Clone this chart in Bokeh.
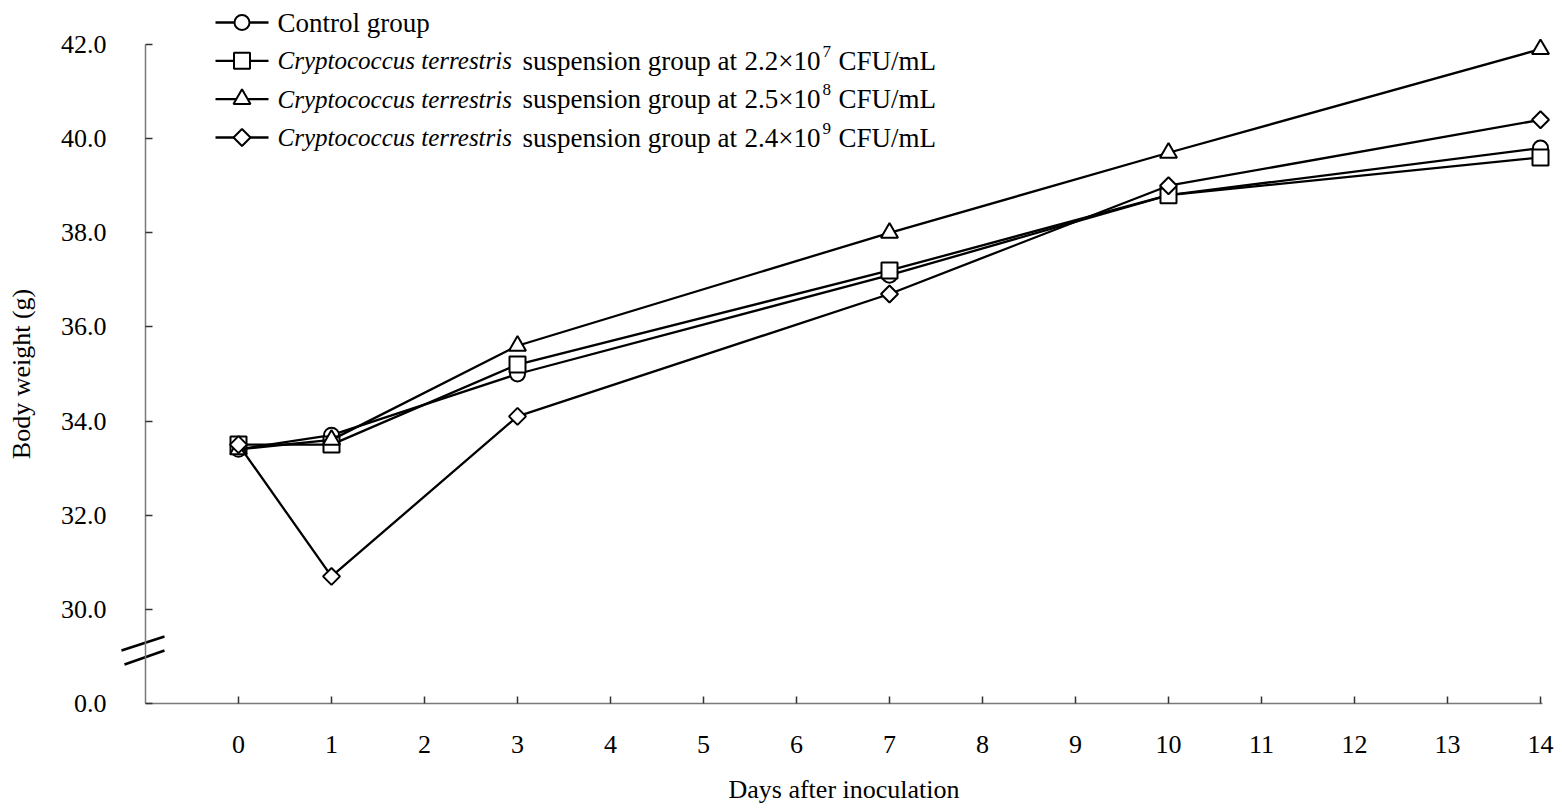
import math

from bokeh.core.properties import value
from bokeh.embed import file_html
from bokeh.models import FixedTicker, Range1d
from bokeh.plotting import figure
from bokeh.resources import INLINE

# ---- data ---------------------------------------------------------------
days = [0, 1, 3, 7, 10, 14]
control = [33.4, 33.7, 35.0, 37.1, 38.8, 39.8]
ct_2_2e7 = [33.5, 33.5, 35.2, 37.2, 38.8, 39.6]
ct_2_5e8 = [33.4, 33.6, 35.6, 38.0, 39.7, 41.9]
ct_2_4e9 = [33.5, 30.7, 34.1, 36.7, 39.0, 40.4]

x_ticks = list(range(0, 15))
y_tick_values = [0.0, 30.0, 32.0, 34.0, 36.0, 38.0, 40.0, 42.0]
y_tick_labels = ["0.0", "30.0", "32.0", "34.0", "36.0", "38.0", "40.0", "42.0"]

legend_plain = "Control group"
legend_italic = "Cryptococcus terrestris"
legend_doses = [("2.2", "7"), ("2.5", "8"), ("2.4", "9")]

# the y axis is broken between 0 and 30: zero sits one tick step below 30
BREAK_POS = 28.0
X_AXIS_START, X_AXIS_END = -1.0, 14.02
Y_AXIS_END = 42.0


def y_pos(v):
    return BREAK_POS if v == 0 else v


# ---- geometry: the frame covers the whole canvas ------------------------
W, H = 1562, 809
LEFT, BOTTOM = 145, 106          # where the axes cross, in pixels from left / bottom
X_PX = 93.0                      # pixels per day
Y_PX = 659.0 / 14.0              # pixels per gram
X0 = X_AXIS_START - LEFT / X_PX
X1 = X0 + W / X_PX
Y0 = BREAK_POS - BOTTOM / Y_PX
Y1 = Y0 + H / Y_PX


def px_x(px):
    return X0 + px / X_PX


def px_y(py):
    return Y0 + (H - py) / Y_PX


FONT = "Liberation Serif"

p = figure(
    width=W, height=H,
    x_range=Range1d(X0, X1), y_range=Range1d(Y0, Y1),
    output_backend="svg", toolbar_location=None,
    min_border=0,
    outline_line_color=None, background_fill_color="white",
    border_fill_color="white",
)
p.grid.visible = False

# ---- axes ---------------------------------------------------------------
for ax in (p.xaxis[0], p.yaxis[0]):
    ax.axis_line_color = "#7a7a7a"
    ax.axis_line_width = 1.5
    ax.major_tick_line_color = "#333333"
    ax.major_tick_line_width = 1.5
    ax.major_tick_in = 7
    ax.major_tick_out = 0
    ax.minor_tick_line_color = None
    ax.major_label_text_font = FONT
    ax.major_label_text_font_size = "26px"
    ax.major_label_text_color = "black"
    ax.axis_label_text_font = FONT
    ax.axis_label_text_font_size = "26px"
    ax.axis_label_text_font_style = "normal"
    ax.axis_label_text_color = "black"

p.xaxis.fixed_location = BREAK_POS
p.xaxis.ticker = FixedTicker(ticks=x_ticks)
p.xaxis.bounds = (X_AXIS_START, X_AXIS_END)
p.xaxis.major_label_standoff = 32
p.xaxis.axis_label = "Days after inoculation"
p.xaxis.axis_label_standoff = 19

y_positions = [y_pos(v) for v in y_tick_values]
p.yaxis.fixed_location = X_AXIS_START
p.yaxis.ticker = FixedTicker(ticks=y_positions)
p.yaxis.major_label_overrides = {pos: lab for pos, lab in zip(y_positions, y_tick_labels)}
p.yaxis.bounds = (BREAK_POS, Y_AXIS_END)
p.yaxis.major_label_standoff = 39
p.yaxis.axis_label = "Body weight (g)"
p.yaxis.axis_label_standoff = 22

# axis-break marks across the y axis
p.segment(x0=[px_x(121), px_x(124)], y0=[px_y(650), px_y(664)],
          x1=[px_x(164), px_x(164)], y1=[px_y(636), px_y(650)],
          line_color="black", line_width=2.5)

# ---- series -------------------------------------------------------------
marker_styles = [
    dict(marker="circle", size=15, angle=0.0),
    dict(marker="square", size=16, angle=0.0),
    dict(marker="triangle", size=17, angle=0.0),
    dict(marker="square", size=12, angle=math.pi / 4),
]
series = [control, ct_2_2e7, ct_2_5e8, ct_2_4e9]
LW = 2.3

for vals, st in zip(series, marker_styles):
    ys = [y_pos(v) for v in vals]
    p.line(days, ys, line_color="black", line_width=LW)
    p.scatter(days, ys, marker=st["marker"], size=st["size"], angle=st["angle"],
              fill_color="white", line_color="black", line_width=2)

# ---- legend -------------------------------------------------------------
row_py = [22, 60.3, 98.6, 137]
line_px = (215, 268)
mark_px = 241.5

for py, st in zip(row_py, marker_styles):
    yy = px_y(py)
    p.segment(x0=[px_x(line_px[0])], y0=[yy], x1=[px_x(line_px[1])], y1=[yy],
              line_color="black", line_width=LW)
    p.scatter([px_x(mark_px)], [yy], marker=st["marker"], size=st["size"], angle=st["angle"],
              fill_color="white", line_color="black", line_width=2)

common = dict(text_font=value(FONT), text_color="black", text_align="left")
big = value("27px")
p.text(x=[px_x(277)], y=[px_y(row_py[0])], text=[legend_plain],
       text_font_size=big, text_baseline="middle", **common)

rows = row_py[1:]
n = len(rows)
p.text(x=[px_x(277)] * n, y=[px_y(r) for r in rows], text=[legend_italic] * n,
       text_font_size=value("25px"), text_font_style="italic", text_baseline="middle", **common)
p.text(x=[px_x(522)] * n, y=[px_y(r) for r in rows], text=["suspension group at"] * n,
       text_font_size=big, text_baseline="middle", **common)
p.text(x=[px_x(744)] * n, y=[px_y(r) for r in rows],
       text=[f"{m}\u00d710" for m, _ in legend_doses],
       text_font_size=big, text_baseline="middle", **common)
p.text(x=[px_x(822)] * n, y=[px_y(r - 15) for r in rows],
       text=[e for _, e in legend_doses],
       text_font_size=value("17px"), text_baseline="top", **common)
p.text(x=[px_x(838)] * n, y=[px_y(r) for r in rows], text=["CFU/mL"] * n,
       text_font_size=big, text_baseline="middle", **common)

open("out.html", "w").write(file_html(p, INLINE))
